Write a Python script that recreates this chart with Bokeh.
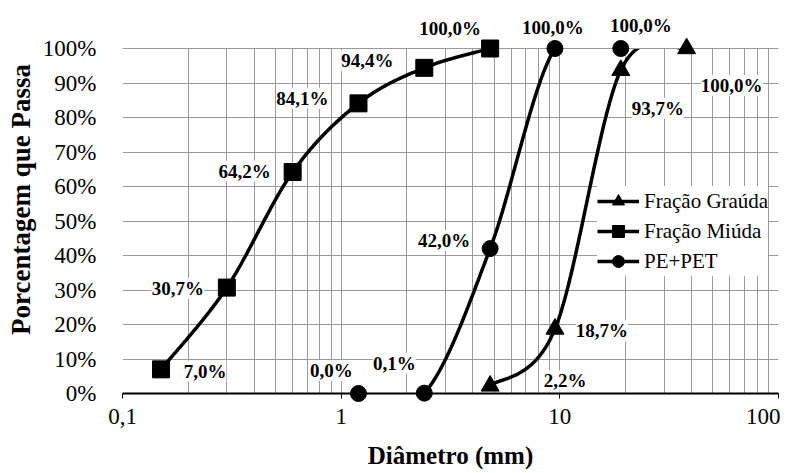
import numpy as np
from bokeh.plotting import figure
from bokeh.models import (ColumnDataSource, LabelSet, Legend, LegendItem, FixedTicker,
                          PrintfTickFormatter, CustomJSTickFormatter, Range1d,
                          BoxAnnotation, Span)
from bokeh.embed import file_html
from bokeh.resources import INLINE

# ---------------- data ----------------
graúda_d = [4.8, 9.5, 19.0, 38.0]
graúda_p = [2.2, 18.7, 93.7, 100.0]
graúda_lbl = ["2,2%", "18,7%", "93,7%", "100,0%"]

miúda_d = [0.15, 0.3, 0.6, 1.2, 2.4, 4.8]
miúda_p = [7.0, 30.7, 64.2, 84.1, 94.4, 100.0]
miúda_lbl = ["7,0%", "30,7%", "64,2%", "84,1%", "94,4%", "100,0%"]

pe_d = [1.2, 2.4, 4.8, 9.5, 19.0]
pe_p = [0.0, 0.1, 42.0, 100.0, 100.0]
pe_lbl = ["0,0%", "0,1%", "42,0%", "100,0%", "100,0%"]

x_ticks = [0.1, 1, 10, 100]
y_ticks = list(range(0, 101, 10))
Y_MAX = 100

# label placement (screen px offsets, dx right, dy up) -- layout only
graúda_off = [(75, 5), (47, -2), (37, -38), (45, -37)]
miúda_off = [(44, -2), (-49, -1), (-48, 1), (-56, 5), (-57, 7), (-40, 20)]
pe_off = [(-27, 23), (-30, 30), (-46, 8), (-2, 21), (20, 23)]

FONT = "Liberation Serif"
GRID = "#9a9a9a"


def smooth(xs, ys, n=60):
    """Excel-like smoothed curve (Catmull-Rom Bezier) computed in log-x space."""
    pts = np.column_stack([np.log10(xs), np.asarray(ys, float)])
    m = len(pts)
    t = np.linspace(0, 1, n)[:, None]
    out = []
    for i in range(m - 1):
        p0 = pts[i - 1] if i > 0 else pts[i]
        p1 = pts[i]
        p2 = pts[i + 1]
        p3 = pts[i + 2] if i + 2 < m else pts[i + 1]
        c1 = p1 + (p2 - p0) / 6.0
        c2 = p2 - (p3 - p1) / 6.0
        b = ((1 - t) ** 3) * p1 + 3 * ((1 - t) ** 2) * t * c1 + 3 * (1 - t) * t ** 2 * c2 + t ** 3 * p2
        out.append(b if i == 0 else b[1:])
    arr = np.vstack(out)
    return 10 ** arr[:, 0], arr[:, 1]


# frame: 0..100 % spans 345 px; extra headroom above 100 % for the top labels
TOP_PAD = 5
px_per_pct = 345 / 100.0
y_top = Y_MAX + (48 - TOP_PAD) / px_per_pct

p = figure(width=780, height=473, x_axis_type="log", output_backend="svg",
           toolbar_location=None, x_range=Range1d(0.1, 100), y_range=Range1d(0, y_top),
           min_border_left=122, min_border_right=2, min_border_top=TOP_PAD, min_border_bottom=80)
p.background_fill_color = "white"
p.border_fill_color = "white"
p.outline_line_color = None

minor = [m * 10.0 ** e for e in (-1, 0, 1) for m in range(2, 10)]
p.xaxis.ticker = FixedTicker(ticks=x_ticks, minor_ticks=minor)
p.yaxis.ticker = FixedTicker(ticks=y_ticks)
p.xaxis.formatter = CustomJSTickFormatter(code="return tick.toString().replace('.', ',');")
p.yaxis.formatter = PrintfTickFormatter(format="%d%%")

p.xgrid.grid_line_color = GRID
p.xgrid.minor_grid_line_color = GRID
p.ygrid.grid_line_color = GRID

for ax in (p.xaxis, p.yaxis):
    ax.major_label_text_font = FONT
    ax.major_label_text_font_size = "23px"
    ax.major_label_text_color = "black"
    ax.axis_label_text_font = FONT
    ax.axis_label_text_font_style = "bold"
    ax.axis_label_text_color = "black"
    ax.minor_tick_line_color = None

p.xaxis.axis_label = "Diâmetro (mm)"
p.xaxis.axis_label_text_font_size = "25px"
p.xaxis.axis_line_color = "black"
p.xaxis.axis_line_width = 2
p.xaxis.major_tick_line_color = "black"
p.xaxis.major_tick_line_width = 1
p.xaxis.major_tick_out = 5
p.xaxis.major_tick_in = 0
p.xaxis.major_label_standoff = 10
p.xaxis.axis_label_standoff = 15

p.yaxis.axis_label = "Porcentagem que Passa"
p.yaxis.axis_label_text_font_size = "27px"
p.yaxis.axis_line_color = None
p.yaxis.major_tick_line_color = None
p.yaxis.major_label_standoff = 20
p.yaxis.axis_label_standoff = 4

series = [
    ("Fração Graúda", graúda_d, graúda_p, graúda_lbl, graúda_off, "triangle", 18),
    ("Fração Miúda", miúda_d, miúda_p, miúda_lbl, miúda_off, "square", 17),
    ("PE+PET", pe_d, pe_p, pe_lbl, pe_off, "circle", 16),
]

lines, scatters, sources = [], [], []
for name, d, pc, lbl, off, marker, size in series:
    sx, sy = smooth(d, pc)
    lr = p.line(sx, sy, line_color="black", line_width=3.5)
    src = ColumnDataSource(dict(x=d, y=pc, text=lbl,
                                dx=[o[0] for o in off], dy=[o[1] for o in off]))
    sr = p.scatter("x", "y", source=src, marker=marker, size=size,
                   fill_color="black", line_color="black", level="overlay")
    lines.append(lr)
    scatters.append(sr)
    sources.append(src)

# plot-area clipping above 100 %: white mask, then the top border line
p.add_layout(BoxAnnotation(bottom=Y_MAX, fill_color="white", fill_alpha=1.0, line_color=None))
p.add_layout(Span(location=Y_MAX, dimension="width", line_color=GRID, line_width=1))

for src in sources:
    p.add_layout(LabelSet(x="x", y="y", text="text", source=src, x_offset="dx", y_offset="dy",
                          text_align="center", text_baseline="middle",
                          text_font=FONT, text_font_style="bold", text_font_size="19px",
                          text_color="black", background_fill_color="white"))

items = [LegendItem(label=s[0], renderers=[lr, sr]) for s, lr, sr in zip(series, lines, scatters)]
legend = Legend(items=items, location=(475, 117), orientation="vertical",
                glyph_width=42, glyph_height=30, spacing=0, padding=3, margin=0,
                label_standoff=5, label_text_font=FONT, label_text_font_size="21px",
                label_text_color="black", border_line_color=None,
                background_fill_color="white", background_fill_alpha=1.0)
p.add_layout(legend)

open("out.html", "w").write(file_html(p, INLINE))
